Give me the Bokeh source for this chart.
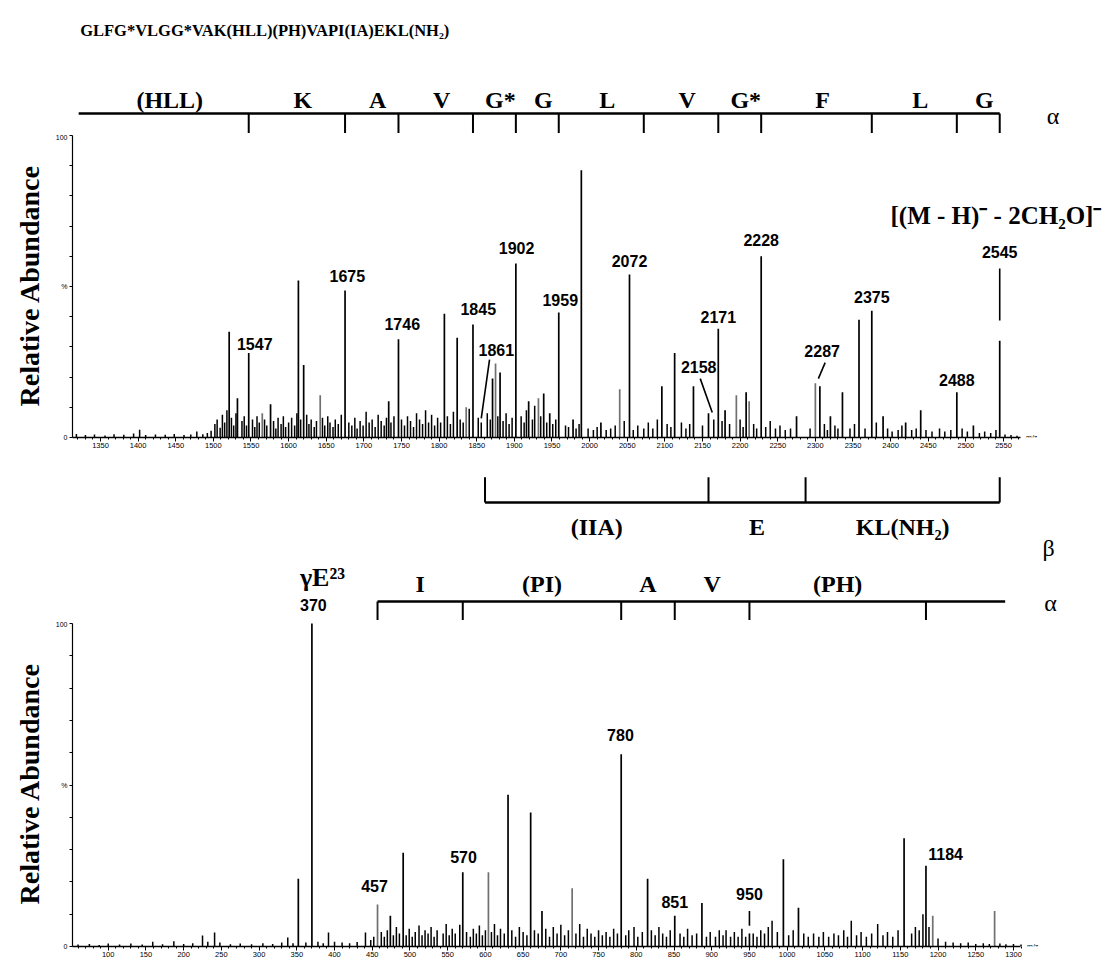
from bokeh.plotting import figure
from bokeh.layouts import column
from bokeh.models import Range1d, FixedTicker, Label
from bokeh.core.properties import value
from bokeh.embed import file_html
from bokeh.resources import INLINE

# ------------------------------------------------------------------ data
title_text = "GLFG*VLGG*VAK(HLL)(PH)VAPI(IA)EKL(NH₂)"
precursor_text = "[(M - H)⁻ - 2CH₂O]⁻"
gamma_text = "γE²³"

# upper spectrum: (m/z, relative abundance %)
top_peaks_black = [(1521, 35), (1532, 13), (1547, 28), (1576, 11), (1613, 52), (1620, 24),
                   (1675, 48.7), (1733, 12), (1746, 32.5), (1807, 41), (1824, 33), (1845, 37.4),
                   (1871, 19.5), (1881, 21.5), (1902, 57.6), (1919, 12), (1939, 14.6), (1947, 8),
                   (1959, 41.4), (1978, 6), (1989, 88.5), (2015, 5), (2053, 54), (2096, 17),
                   (2113, 28), (2138, 17), (2158, 8), (2171, 36), (2180, 9), (2208, 15),
                   (2228, 60), (2275, 7), (2306, 17), (2320, 7), (2336, 15), (2358, 39),
                   (2375, 42), (2390, 7), (2420, 5), (2440, 9), (2488, 15), (2510, 4), (2545, 32)]
top_peaks_gray = [(1565, 8), (1642, 14), (1836, 10), (1875, 24.5), (1932, 13), (2040, 16),
                  (2195, 14), (2212, 12), (2300, 18)]
top_noise = [(1318, 1.2), (1330, 0.8), (1342, 1.0), (1356, 0.7), (1368, 1.1), (1381, 0.9), (1394, 1.3),
             (1402, 2.6), (1410, 0.8), (1423, 1.0), (1436, 0.9), (1448, 1.2), (1461, 0.8), (1470, 1.0),
             (1478, 2.0), (1486, 1.1), (1492, 1.5), (1497, 2.2),
             (1502, 4.5), (1505, 6.0), (1509, 3.2), (1512, 7.5), (1515, 5.0), (1518, 9.0), (1524, 6.5),
             (1527, 4.0), (1530, 8.0), (1538, 5.5), (1541, 7.0), (1544, 4.0), (1552, 6.0), (1555, 3.5),
             (1558, 7.0), (1561, 5.0), (1568, 6.0), (1571, 4.0), (1580, 5.5), (1583, 3.0), (1586, 6.5),
             (1590, 4.5), (1593, 7.0), (1596, 3.5), (1600, 5.0), (1604, 6.5), (1608, 4.0), (1611, 8.0),
             (1616, 6.0), (1624, 7.5), (1627, 4.5), (1630, 6.0), (1634, 3.5), (1637, 5.5), (1645, 6.5),
             (1648, 4.0), (1652, 7.0), (1655, 5.0), (1659, 3.5), (1662, 6.0), (1666, 4.5), (1670, 7.5),
             (1680, 5.0), (1684, 4.0), (1688, 6.5), (1691, 3.0), (1695, 5.5), (1699, 4.0), (1703, 8.5),
             (1707, 5.0), (1711, 6.0), (1715, 3.5), (1719, 7.5), (1723, 5.5), (1727, 4.0), (1730, 6.5),
             (1736, 5.0), (1740, 7.0), (1750, 6.0), (1754, 4.0), (1758, 7.0), (1762, 5.5), (1766, 3.5),
             (1770, 8.0), (1774, 6.0), (1778, 4.5), (1782, 9.0), (1786, 5.0), (1790, 7.5), (1794, 4.0),
             (1798, 6.5), (1802, 5.0), (1811, 7.0), (1815, 4.5), (1819, 8.5), (1828, 6.0), (1832, 5.0),
             (1840, 9.5), (1852, 6.5), (1856, 5.0), (1864, 8.0), (1868, 6.0), (1878, 7.0), (1885, 5.5),
             (1889, 8.0), (1893, 4.5), (1897, 6.5), (1909, 7.0), (1913, 5.0), (1916, 9.0), (1924, 6.0),
             (1927, 10.5), (1935, 7.0), (1943, 5.0), (1951, 4.5), (1955, 6.0), (1968, 4.0), (1972, 3.5),
             (1982, 3.0), (1986, 4.5), (1998, 3.0),
             (2005, 2.5), (2010, 3.5), (2022, 2.5), (2028, 3.0), (2034, 4.0), (2046, 5.5), (2058, 2.5),
             (2064, 4.0), (2072, 3.0), (2078, 5.0), (2084, 3.0), (2090, 6.0), (2103, 4.5), (2108, 3.5),
             (2122, 5.0), (2128, 3.0), (2133, 4.5), (2150, 4.0), (2165, 6.0), (2176, 5.5), (2186, 4.5),
             (2200, 6.0), (2204, 3.5), (2218, 4.5), (2222, 3.0), (2234, 3.5), (2240, 5.5), (2247, 3.0),
             (2253, 4.0), (2260, 2.5), (2267, 3.0), (2293, 3.0), (2312, 4.5), (2316, 2.5), (2326, 4.0),
             (2330, 3.0), (2346, 3.0), (2352, 4.5), (2366, 3.0), (2381, 5.0), (2396, 3.0), (2402, 2.0),
             (2410, 2.5), (2415, 4.0), (2428, 2.5), (2434, 3.0), (2447, 2.5), (2455, 2.0), (2465, 3.0),
             (2472, 2.0), (2480, 2.5), (2495, 3.0), (2502, 2.0), (2518, 1.5), (2525, 2.0), (2533, 1.5),
             (2540, 2.5), (2552, 1.0), (2560, 0.8), (2568, 0.6)]
top_labels = ["1547", "1675", "1746", "1845", "1861", "1902", "1959", "2072", "2158", "2171",
              "2228", "2287", "2375", "2488", "2545"]
top_xticks = list(range(1350, 2551, 50))
top_xminor = list(range(1320, 2571, 10))
alpha_top_residues = ["(HLL)", "K", "A", "V", "G*", "G", "L", "V", "G*", "F", "L", "G"]
alpha_top_cuts = [1547, 1675, 1746, 1845, 1902, 1959, 2072, 2171, 2228, 2375, 2488, 2545]
beta_residues = ["(IIA)", "E", "KL(NH₂)"]
beta_cuts = [1861, 2158, 2287, 2545]

# lower spectrum
bot_peaks_black = [(352, 21), (370, 100), (474, 9.5), (491, 29), (570, 23), (630, 47), (660, 41.5),
                   (675, 11), (780, 59.5), (815, 21), (851, 9.5), (887, 13.5), (950, 4), (995, 27),
                   (1015, 12), (1155, 33.5), (1184, 25)]
bot_peaks_gray = [(457, 13), (604, 23), (715, 18), (1193, 9.5), (1275, 11)]
bot_noise = [(60, 0.6), (75, 0.8), (88, 0.5), (100, 0.9), (115, 0.6), (130, 0.9), (145, 0.6), (159, 1.5),
             (172, 0.7), (187, 1.6), (200, 0.8), (212, 1.0), (225, 3.4), (232, 1.5), (241, 4.3), (248, 1.2),
             (262, 0.7), (275, 0.9), (290, 0.7), (305, 1.0), (318, 0.8), (330, 1.2), (338, 2.8), (345, 1.0),
             (362, 1.2), (378, 1.5), (385, 1.0), (392, 4.3), (400, 1.5), (410, 1.2), (420, 1.0), (430, 1.4),
             (441, 4.3), (448, 2.0),
             (452, 3.0), (462, 4.5), (466, 3.0), (470, 5.0), (478, 3.5), (482, 6.0), (486, 4.0), (495, 3.5),
             (499, 5.5), (503, 3.0), (507, 4.5), (512, 6.5), (516, 3.5), (520, 5.0), (524, 4.0), (528, 6.0),
             (532, 3.0), (536, 5.0), (544, 4.0), (548, 7.0), (552, 3.5), (556, 5.5), (560, 4.0), (566, 6.7),
             (575, 4.5), (580, 3.0), (584, 5.5), (588, 4.0), (592, 6.5), (596, 3.5), (600, 5.0), (608, 4.5),
             (612, 7.0), (616, 3.5), (620, 5.5), (625, 4.0), (635, 5.0), (640, 3.0), (645, 6.0), (650, 4.5),
             (655, 3.5), (665, 5.0), (670, 4.0), (680, 5.5), (685, 3.0), (690, 6.0), (695, 4.0), (700, 6.7),
             (705, 3.5), (710, 5.0), (720, 4.0), (725, 7.0), (730, 3.0), (735, 5.5), (740, 4.0), (745, 3.0),
             (750, 5.0), (755, 3.5), (760, 4.5), (765, 3.0), (770, 5.5), (775, 4.0), (786, 3.5), (790, 5.0),
             (797, 6.0), (802, 3.0), (808, 4.5), (820, 5.0), (825, 3.5), (830, 6.0), (835, 4.0), (840, 3.0),
             (845, 5.0), (858, 4.0), (863, 3.0), (868, 5.5), (874, 3.5), (880, 4.0), (893, 3.0), (898, 4.5),
             (905, 3.0), (910, 5.0), (915, 3.5), (919, 5.0), (925, 3.0), (930, 4.5), (935, 3.0), (940, 5.5),
             (945, 3.0), (955, 4.0), (960, 3.0), (965, 5.0), (970, 4.0), (975, 6.0), (980, 8.0), (987, 4.5),
             (1002, 3.5), (1008, 5.0), (1022, 4.0), (1028, 3.0), (1035, 4.0), (1042, 3.0), (1048, 4.5),
             (1055, 3.0), (1062, 4.0), (1068, 3.5), (1075, 5.0), (1080, 3.0), (1085, 8.0), (1092, 3.5),
             (1098, 4.5), (1105, 3.0), (1112, 4.0), (1120, 7.0), (1127, 3.5), (1133, 4.5), (1140, 3.0),
             (1147, 5.0), (1165, 4.0), (1170, 6.0), (1175, 5.0), (1180, 10.0), (1188, 6.0), (1200, 2.5),
             (1210, 1.5), (1220, 1.2), (1230, 1.0), (1240, 1.2), (1250, 0.8), (1260, 1.0), (1268, 0.8),
             (1282, 0.9), (1290, 0.7), (1300, 0.8), (1310, 0.6)]
bot_labels = ["370", "457", "570", "780", "851", "950", "1184"]
bot_xticks = list(range(50, 1301, 50))
bot_xminor = list(range(50, 1311, 10))
alpha_bot_residues = ["I", "(PI)", "A", "V", "(PH)"]
alpha_bot_cuts = [457, 570, 780, 851, 950, 1184]

y_ticks = list(range(0, 101, 10))

# ------------------------------------------------------------------ layout constants
W = 1113
LB = 72
SERIF = "Liberation Serif"
SANS = "Liberation Sans"
XR_TOP = Range1d(1312.8, 2696.2)
XR_BOT = Range1d(52.65, 1432.6)

# label centres (m/z, %)
TOP_LABEL_POS = {"1547": (1555, 31.1), "1675": (1678, 53.6), "1746": (1751, 37.7), "1845": (1852, 42.7),
                 "1861": (1876, 29.1), "1902": (1903, 62.9), "1959": (1961, 45.5), "2072": (2053, 58.5),
                 "2158": (2145, 23.2), "2171": (2171, 40.0), "2228": (2228, 65.5), "2287": (2309, 28.8),
                 "2375": (2375, 46.5), "2488": (2488, 19.0), "2545": (2545, 61.3)}
TOP_LEADERS = [((1867, 25.8), (1856, 6.3)), ((2147, 19.5), (2163, 8.3)),
               ((2313, 24.8), (2304, 19.5)), ((2545, 56.0), (2545, 38.7))]
BOT_LABEL_POS = {"370": (372, 105.6), "457": (453, 18.7), "570": (571, 27.8), "780": (779, 65.4),
                 "851": (851, 13.8), "950": (950, 16.2), "1184": (1210, 28.7)}
BOT_LEADERS = [((950, 11.0), (950, 6.4))]


def base_fig(h, xr, yr, axes=False, bb=0):
    kw = dict(width=W, height=h, x_range=xr, y_range=yr, output_backend="svg",
              toolbar_location=None, title=None, min_border_left=LB, min_border_right=0,
              min_border_top=0, min_border_bottom=bb)
    if not axes:
        kw.update(x_axis_location=None, y_axis_location=None)
    p = figure(**kw)
    p.outline_line_color = None
    p.grid.visible = False
    p.background_fill_color = "white"
    p.border_fill_color = "white"
    return p


def style_axes(p, ticks, minor, bounds):
    xa = p.xaxis[0]
    xa.ticker = FixedTicker(ticks=ticks, minor_ticks=minor)
    xa.bounds = bounds
    xa.axis_line_color = "black"
    xa.axis_line_width = 1.4
    xa.major_tick_in = 0
    xa.major_tick_out = 4
    xa.minor_tick_in = 0
    xa.minor_tick_out = 2
    xa.major_tick_line_color = "black"
    xa.minor_tick_line_color = "black"
    xa.major_label_text_font = SANS
    xa.major_label_text_font_size = "7.5px"
    xa.major_label_text_color = "black"
    xa.major_label_standoff = 1
    ya = p.yaxis[0]
    ya.ticker = FixedTicker(ticks=y_ticks, minor_ticks=[])
    ya.bounds = (0, 100)
    ya.major_label_overrides = {t: ("0" if t == 0 else "%" if t == 50 else "100" if t == 100 else "")
                                for t in y_ticks}
    ya.axis_line_color = "black"
    ya.axis_line_width = 1.2
    ya.major_tick_in = 0
    ya.major_tick_out = 3
    ya.major_tick_line_color = "black"
    ya.major_label_text_font = SANS
    ya.major_label_text_font_size = "7px"
    ya.major_label_text_color = "black"
    ya.major_label_standoff = 2
    ya.axis_label = "Relative Abundance"
    ya.axis_label_text_font = SERIF
    ya.axis_label_text_font_style = "bold"
    ya.axis_label_text_font_size = "28px"
    ya.axis_label_text_color = "black"
    ya.axis_label_standoff = 8


def txt(p, xs, ys, texts, font, size, bold=True, align="center", baseline="middle"):
    p.text(x=xs, y=ys, text=texts, text_font=value(font), text_font_size=size,
           text_font_style="bold" if bold else "normal", text_align=align,
           text_baseline=baseline, text_color="black")


def sticks(p, pairs, color, lw):
    xs = [m for m, _ in pairs]
    ys = [a for _, a in pairs]
    p.segment(x0=xs, y0=[0] * len(xs), x1=xs, y1=ys, line_color=color, line_width=lw)


def leaders(p, segs):
    p.segment(x0=[a[0] for a, b in segs], y0=[a[1] for a, b in segs],
              x1=[b[0] for a, b in segs], y1=[b[1] for a, b in segs],
              line_color="black", line_width=1.6)


# ------------------------------------------------------------------ A: title + alpha bracket (upper)
figA = base_fig(133, XR_TOP, Range1d(100.66, 144.7))
txt(figA, [1323], [134.8], [title_text], SERIF, "16.5px", align="left")
a_bounds = [1321] + alpha_top_cuts
figA.segment(x0=[a_bounds[0]], y0=[107.3], x1=[a_bounds[-1]], y1=[107.3], line_color="black", line_width=2.6)
figA.segment(x0=alpha_top_cuts, y0=[107.3] * len(alpha_top_cuts), x1=alpha_top_cuts,
             y1=[99.0] * len(alpha_top_cuts), line_color="black", line_width=2.0)
a_mid = [(a_bounds[i] + a_bounds[i + 1]) / 2 + 8 for i in range(len(alpha_top_residues))]
txt(figA, a_mid, [111.8] * len(a_mid), alpha_top_residues, SERIF, "24px")
txt(figA, [2616], [106.6], ["α"], SERIF, "24px", bold=False)

# ------------------------------------------------------------------ 1: upper spectrum
fig1 = base_fig(329, XR_TOP, Range1d(0, 100.66), axes=True, bb=25)
style_axes(fig1, top_xticks, top_xminor, (1313, 2573))
sticks(fig1, top_noise, "black", 1.5)
sticks(fig1, top_peaks_gray, "#707070", 1.7)
sticks(fig1, top_peaks_black, "black", 1.7)
txt(fig1, [TOP_LABEL_POS[t][0] for t in top_labels], [TOP_LABEL_POS[t][1] for t in top_labels],
    top_labels, SANS, "16px")
leaders(fig1, TOP_LEADERS)
txt(fig1, [2540], [73.5], [precursor_text], SERIF, "25px")
fig1.add_layout(Label(x=2580, y=0, text="m/z", text_font=SANS, text_font_size="7px",
                      text_baseline="middle", text_align="left", text_color="black"))

# ------------------------------------------------------------------ B: beta bracket
figB = base_fig(101, XR_TOP, Range1d(-41.72, -8.28))
figB.segment(x0=[beta_cuts[0]], y0=[-21.5], x1=[beta_cuts[-1]], y1=[-21.5], line_color="black", line_width=2.6)
figB.segment(x0=beta_cuts, y0=[-21.5] * len(beta_cuts), x1=beta_cuts, y1=[-13.2] * len(beta_cuts),
             line_color="black", line_width=2.0)
b_mid = [(beta_cuts[i] + beta_cuts[i + 1]) / 2 for i in range(len(beta_residues))]
txt(figB, b_mid, [-29.8] * len(b_mid), beta_residues, SERIF, "24px")
txt(figB, [2610], [-36.5], ["β"], SERIF, "24px", bold=False)

# ------------------------------------------------------------------ C: gamma + alpha bracket (lower)
figC = base_fig(57, XR_BOT, Range1d(100.93, 118.58))
txt(figC, [384], [114.2], [gamma_text], SERIF, "26px")
txt(figC, [BOT_LABEL_POS["370"][0]], [BOT_LABEL_POS["370"][1]], ["370"], SANS, "16px")
figC.segment(x0=[alpha_bot_cuts[0]], y0=[106.8], x1=[1289], y1=[106.8], line_color="black", line_width=2.6)
figC.segment(x0=alpha_bot_cuts, y0=[106.8] * len(alpha_bot_cuts), x1=alpha_bot_cuts,
             y1=[99.0] * len(alpha_bot_cuts), line_color="black", line_width=2.0)
c_mid = [(alpha_bot_cuts[i] + alpha_bot_cuts[i + 1]) / 2 for i in range(len(alpha_bot_residues))]
txt(figC, c_mid, [112.1] * len(c_mid), alpha_bot_residues, SERIF, "24px")
txt(figC, [1349], [106.2], ["α"], SERIF, "24px", bold=False)

# ------------------------------------------------------------------ 2: lower spectrum
fig2 = base_fig(340, XR_BOT, Range1d(0, 100.93), axes=True, bb=14)
style_axes(fig2, bot_xticks, bot_xminor, (52.65, 1309))
sticks(fig2, bot_noise, "black", 1.5)
sticks(fig2, bot_peaks_gray, "#707070", 1.7)
sticks(fig2, bot_peaks_black, "black", 1.7)
bl = [t for t in bot_labels if t != "370"]
txt(fig2, [BOT_LABEL_POS[t][0] for t in bl], [BOT_LABEL_POS[t][1] for t in bl], bl, SANS, "16px")
leaders(fig2, BOT_LEADERS)
fig2.add_layout(Label(x=1318, y=0, text="m/z", text_font=SANS, text_font_size="7px",
                      text_baseline="middle", text_align="left", text_color="black"))

layout = column(figA, fig1, figB, figC, fig2, spacing=0)
open("out.html", "w").write(file_html(layout, INLINE))
